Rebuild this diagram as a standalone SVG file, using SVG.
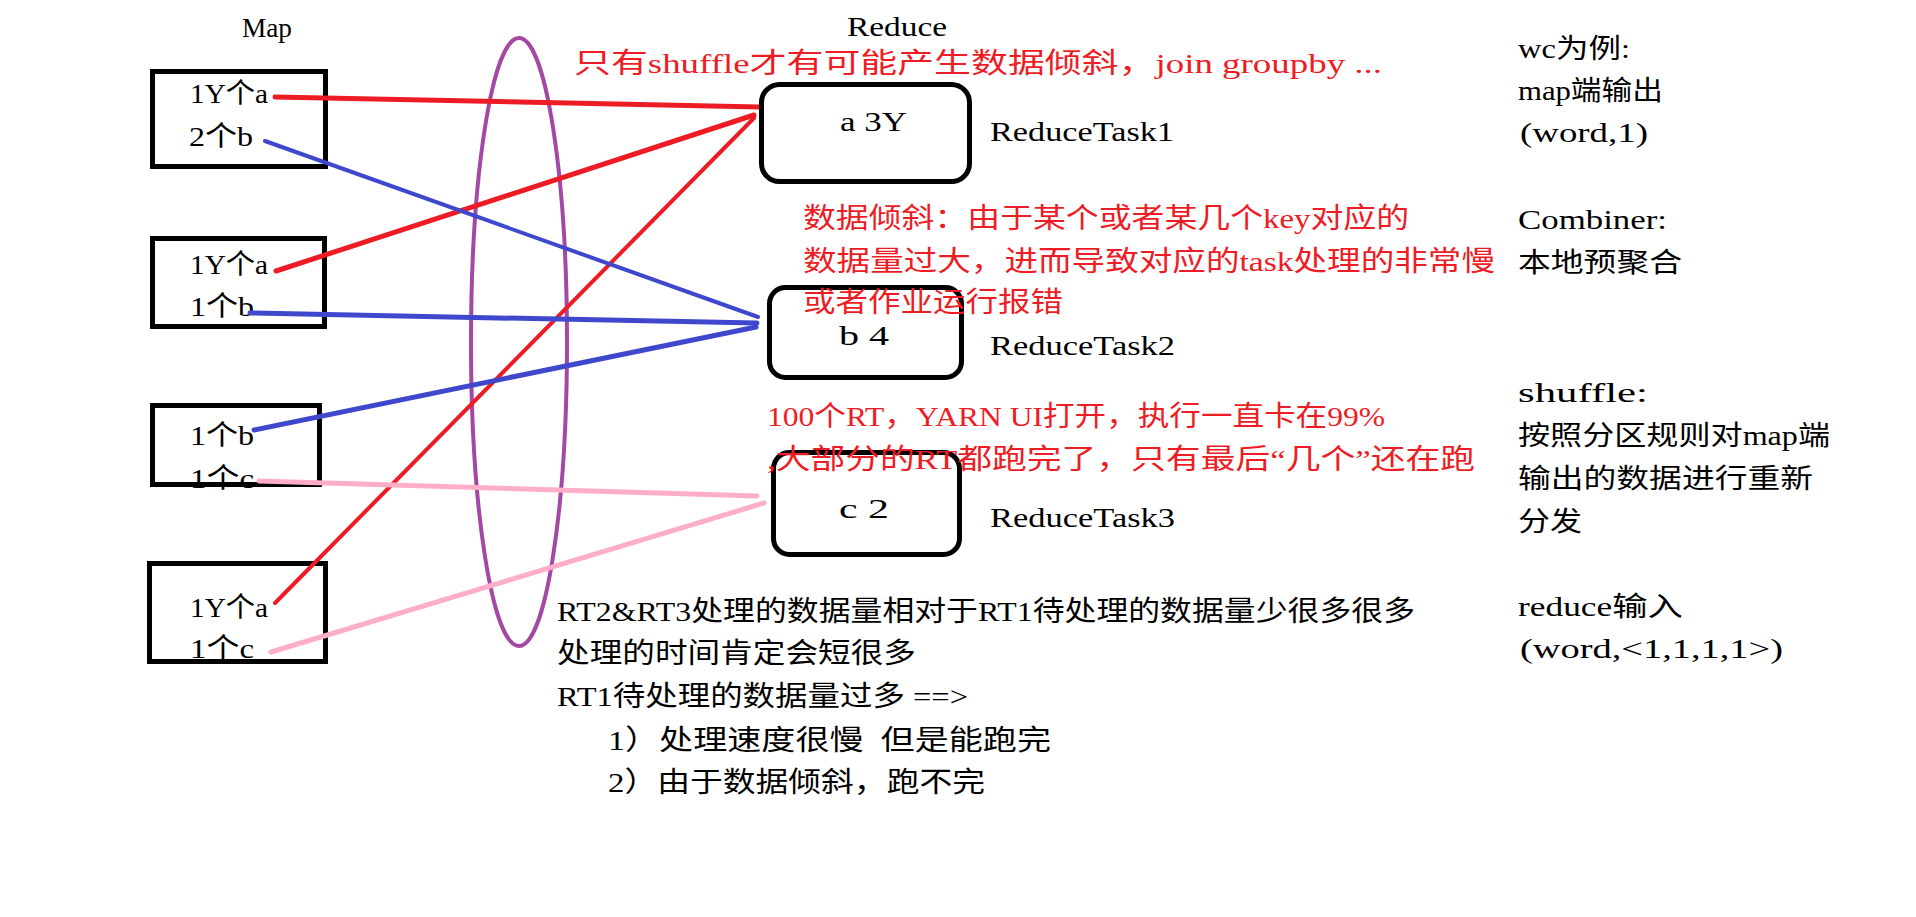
<svg xmlns="http://www.w3.org/2000/svg" width="1916" height="917" viewBox="0 0 1916 917">
<style>
text{font-family:"Liberation Serif","Noto Sans CJK SC",serif;font-size:28px;fill:#000;white-space:pre}
.r{fill:#ee1c24}
.rc{font-size:27px}
.box{fill:none;stroke:#000;stroke-width:5}
.rbox{fill:none;stroke:#000;stroke-width:5}
.c{stroke-linecap:round;fill:none}
.red{stroke:#ed1c24}
.blue{stroke:#3f48cc}
.pink{stroke:#ffaec9}
</style>
<rect width="1916" height="917" fill="#fff"/>
<g id="titles">
<text x="242" y="37" textLength="50" lengthAdjust="spacingAndGlyphs">Map</text>
<text x="847" y="36" textLength="100" lengthAdjust="spacingAndGlyphs">Reduce</text>
</g>
<g id="shuffle-ellipse">
<ellipse cx="519" cy="342" rx="48" ry="304" fill="none" stroke="#a349a4" stroke-width="4"/>
</g>
<g id="map1">
<rect class="box" x="152.5" y="71.5" width="173" height="95"/>
<text x="190" y="103" textLength="78" lengthAdjust="spacingAndGlyphs">1Y个a</text>
<text x="189" y="146" textLength="64" lengthAdjust="spacingAndGlyphs">2个b</text>
</g>
<g id="map2">
<rect class="box" x="152.5" y="238.5" width="172" height="88"/>
<text x="190" y="274" textLength="78" lengthAdjust="spacingAndGlyphs">1Y个a</text>
<text x="190" y="316" textLength="64" lengthAdjust="spacingAndGlyphs">1个b</text>
</g>
<g id="map3">
<rect class="box" x="152.5" y="405.5" width="167" height="79"/>
<text x="190" y="445" textLength="64" lengthAdjust="spacingAndGlyphs">1个b</text>
<text x="190" y="488" textLength="64" lengthAdjust="spacingAndGlyphs">1个c</text>
</g>
<g id="map4">
<rect class="box" x="149.5" y="563.5" width="176" height="98"/>
<text x="190" y="617" textLength="78" lengthAdjust="spacingAndGlyphs">1Y个a</text>
<text x="190" y="658" textLength="64" lengthAdjust="spacingAndGlyphs">1个c</text>
</g>
<g id="connectors">
<line class="c red" x1="275" y1="97" x2="759" y2="107" stroke-width="5"/>
<line class="c red" x1="276" y1="271" x2="754" y2="115" stroke-width="5"/>
<line class="c red" x1="275" y1="603" x2="754" y2="118" stroke-width="4"/>
<line class="c blue" x1="265" y1="141" x2="758" y2="317" stroke-width="4"/>
<line class="c blue" x1="250" y1="313" x2="757" y2="323" stroke-width="5"/>
<line class="c blue" x1="254" y1="430" x2="756" y2="327" stroke-width="5"/>
<line class="c pink" x1="259" y1="481" x2="757" y2="496" stroke-width="5"/>
<line class="c pink" x1="271" y1="652" x2="764" y2="503" stroke-width="5"/>
</g>
<g id="reduce1">
<rect class="rbox" x="761.5" y="84.5" width="208" height="97" rx="18"/>
<text x="840" y="131" textLength="67" lengthAdjust="spacingAndGlyphs">a 3Y</text>
<text x="990" y="141" textLength="184" lengthAdjust="spacingAndGlyphs">ReduceTask1</text>
</g>
<g id="reduce2">
<rect class="rbox" x="769.5" y="287.5" width="192" height="90" rx="16"/>
<text x="839" y="345" textLength="50" lengthAdjust="spacingAndGlyphs">b 4</text>
<text x="990" y="355" textLength="185" lengthAdjust="spacingAndGlyphs">ReduceTask2</text>
</g>
<g id="reduce3">
<rect class="rbox" x="773.5" y="452.5" width="186" height="102" rx="16"/>
<text x="839" y="518" textLength="50" lengthAdjust="spacingAndGlyphs">c 2</text>
<text x="990" y="527" textLength="185" lengthAdjust="spacingAndGlyphs">ReduceTask3</text>
</g>
<g id="red-notes">
<text class="r" x="574" y="73" textLength="808" lengthAdjust="spacingAndGlyphs">只有shuffle才有可能产生数据倾斜，join groupby ...</text>
<text class="r" x="803" y="228" textLength="606" lengthAdjust="spacingAndGlyphs">数据倾斜：由于某个或者某几个key对应的</text>
<text class="r" x="803" y="271" textLength="692" lengthAdjust="spacingAndGlyphs">数据量过大，进而导致对应的task处理的非常慢</text>
<text class="r" x="803" y="312" textLength="260" lengthAdjust="spacingAndGlyphs">或者作业运行报错</text>
<text class="r" x="767" y="426" textLength="618" lengthAdjust="spacingAndGlyphs">100个RT，YARN UI打开，执行一直卡在99%</text>
<text class="r" x="767" y="469" textLength="708" lengthAdjust="spacingAndGlyphs">,大部分的RT都跑完了，只有最后“几个”还在跑</text>
</g>
<g id="bottom-notes">
<text x="557" y="621" textLength="858" lengthAdjust="spacingAndGlyphs">RT2&amp;RT3处理的数据量相对于RT1待处理的数据量少很多很多</text>
<text x="557" y="663" textLength="359" lengthAdjust="spacingAndGlyphs">处理的时间肯定会短很多</text>
<text x="557" y="706" textLength="411" lengthAdjust="spacingAndGlyphs">RT1待处理的数据量过多 ==&gt;</text>
<text x="608" y="750" textLength="443" lengthAdjust="spacingAndGlyphs">1）处理速度很慢  但是能跑完</text>
<text x="608" y="792" textLength="377" lengthAdjust="spacingAndGlyphs">2）由于数据倾斜，跑不完</text>
</g>
<g id="right-notes">
<text class="rc" x="1518" y="58" textLength="112" lengthAdjust="spacingAndGlyphs">wc为例:</text>
<text class="rc" x="1518" y="100" textLength="145" lengthAdjust="spacingAndGlyphs">map端输出</text>
<text class="rc" x="1520" y="142" textLength="128" lengthAdjust="spacingAndGlyphs">(word,1)</text>
<text class="rc" x="1518" y="229" textLength="149" lengthAdjust="spacingAndGlyphs">Combiner:</text>
<text class="rc" x="1518" y="272" textLength="164" lengthAdjust="spacingAndGlyphs">本地预聚合</text>
<text class="rc" x="1518" y="402" textLength="130" lengthAdjust="spacingAndGlyphs">shuffle:</text>
<text class="rc" x="1518" y="445" textLength="312" lengthAdjust="spacingAndGlyphs">按照分区规则对map端</text>
<text class="rc" x="1518" y="488" textLength="295" lengthAdjust="spacingAndGlyphs">输出的数据进行重新</text>
<text class="rc" x="1518" y="531" textLength="64" lengthAdjust="spacingAndGlyphs">分发</text>
<text class="rc" x="1518" y="616" textLength="165" lengthAdjust="spacingAndGlyphs">reduce输入</text>
<text class="rc" x="1520" y="658" textLength="263" lengthAdjust="spacingAndGlyphs">(word,&lt;1,1,1,1&gt;)</text>
</g>
</svg>
